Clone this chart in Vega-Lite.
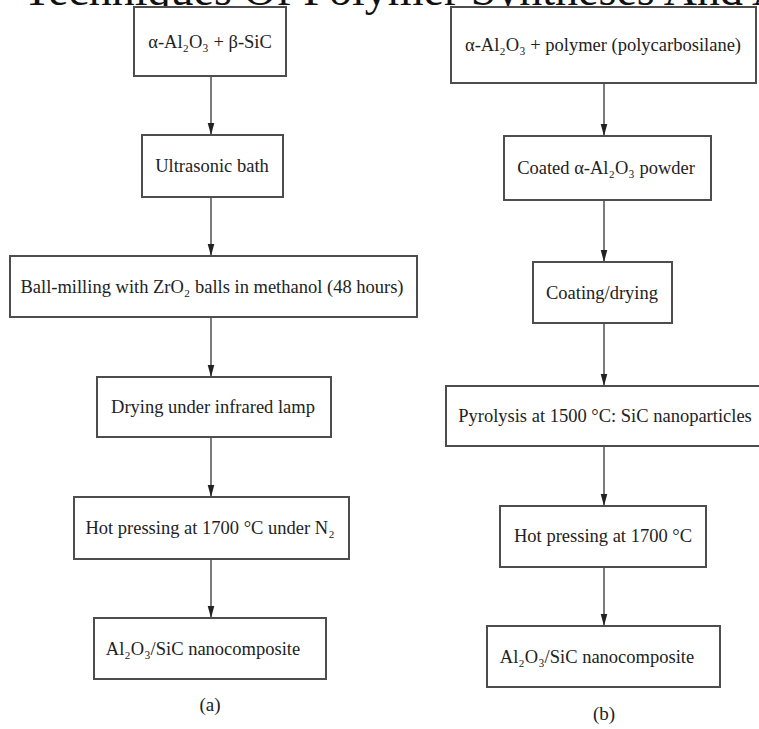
{
  "$schema": "https://vega.github.io/schema/vega-lite/v6.json",
  "width": 759,
  "height": 729,
  "autosize": "none",
  "padding": 0,
  "background": "white",
  "config": {"view": {"stroke": null}},
  "datasets": {
    "title": [{"label": "Techniques Of Polymer Syntheses And Applications", "x": 23, "y": 5}],
    "boxes": [
      {"id": "a1", "x1": 134, "x2": 286, "y1": 7, "y2": 76, "tx": 210, "ty": 42, "label": "α-Al₂O₃ + β-SiC"},
      {"id": "a2", "x1": 142, "x2": 283, "y1": 135, "y2": 197, "tx": 212, "ty": 166, "label": "Ultrasonic bath"},
      {"id": "a3", "x1": 10, "x2": 417, "y1": 256, "y2": 317, "tx": 212, "ty": 287, "label": "Ball-milling with ZrO₂ balls in methanol (48 hours)"},
      {"id": "a4", "x1": 97, "x2": 331, "y1": 377, "y2": 437, "tx": 213, "ty": 407, "label": "Drying under infrared lamp"},
      {"id": "a5", "x1": 74, "x2": 349, "y1": 497, "y2": 559, "tx": 210, "ty": 528, "label": "Hot pressing at 1700 °C under N₂"},
      {"id": "a6", "x1": 94, "x2": 326, "y1": 618, "y2": 679, "tx": 203, "ty": 649, "label": "Al₂O₃/SiC nanocomposite"},
      {"id": "b1", "x1": 451, "x2": 756, "y1": 7, "y2": 83, "tx": 603, "ty": 45, "label": "α-Al₂O₃ + polymer (polycarbosilane)"},
      {"id": "b2", "x1": 504, "x2": 711, "y1": 136, "y2": 200, "tx": 606, "ty": 168, "label": "Coated α-Al₂O₃ powder"},
      {"id": "b3", "x1": 533, "x2": 672, "y1": 262, "y2": 323, "tx": 602, "ty": 293, "label": "Coating/drying"},
      {"id": "b4", "x1": 446, "x2": 768, "y1": 386, "y2": 446, "tx": 605, "ty": 416, "label": "Pyrolysis at 1500 °C: SiC nanoparticles"},
      {"id": "b5", "x1": 500, "x2": 706, "y1": 506, "y2": 567, "tx": 603, "ty": 536, "label": "Hot pressing at 1700 °C"},
      {"id": "b6", "x1": 487, "x2": 720, "y1": 626, "y2": 687, "tx": 597, "ty": 657, "label": "Al₂O₃/SiC nanocomposite"}
    ],
    "arrows": [
      {"x": 211, "from": 76, "to": 135},
      {"x": 211, "from": 197, "to": 256},
      {"x": 211, "from": 317, "to": 377},
      {"x": 211, "from": 437, "to": 497},
      {"x": 211, "from": 559, "to": 618},
      {"x": 604, "from": 83, "to": 136},
      {"x": 604, "from": 200, "to": 262},
      {"x": 604, "from": 323, "to": 386},
      {"x": 604, "from": 446, "to": 506},
      {"x": 604, "from": 567, "to": 626}
    ],
    "panels": [
      {"label": "(a)", "x": 210, "y": 705},
      {"label": "(b)", "x": 604, "y": 714}
    ]
  },
  "resolve": {"scale": {"x": "shared", "y": "shared"}},
  "layer": [
    {
      "data": {"name": "title"},
      "mark": {"type": "text", "align": "left", "baseline": "alphabetic", "font": "Liberation Serif", "fontSize": 46, "color": "#111"},
      "encoding": {
        "x": {"field": "x", "type": "quantitative", "scale": {"domain": [0, 759], "zero": false, "nice": false}, "axis": null},
        "y": {"field": "y", "type": "quantitative", "scale": {"domain": [0, 729], "range": [0, 729], "zero": false, "nice": false}, "axis": null},
        "text": {"field": "label"}
      }
    },
    {
      "data": {"name": "arrows"},
      "mark": {"type": "rule", "color": "#333", "strokeWidth": 1.3},
      "encoding": {
        "x": {"field": "x", "type": "quantitative"},
        "y": {"field": "from", "type": "quantitative"},
        "y2": {"field": "to"}
      }
    },
    {
      "data": {"name": "arrows"},
      "mark": {"type": "point", "shape": "M-0.55,-2L0.55,-2L0,0Z", "filled": true, "color": "#222", "opacity": 1, "size": 144},
      "encoding": {
        "x": {"field": "x", "type": "quantitative"},
        "y": {"field": "to", "type": "quantitative"}
      }
    },
    {
      "data": {"name": "boxes"},
      "mark": {"type": "rect", "fill": "white", "stroke": "#4d4d4d", "strokeWidth": 2},
      "encoding": {
        "x": {"field": "x1", "type": "quantitative"},
        "x2": {"field": "x2"},
        "y": {"field": "y1", "type": "quantitative"},
        "y2": {"field": "y2"}
      }
    },
    {
      "data": {"name": "boxes"},
      "mark": {"type": "text", "align": "center", "baseline": "middle", "font": "Liberation Serif", "fontSize": 18.5, "color": "#222"},
      "encoding": {
        "x": {"field": "tx", "type": "quantitative"},
        "y": {"field": "ty", "type": "quantitative"},
        "text": {"field": "label"}
      }
    },
    {
      "data": {"name": "panels"},
      "mark": {"type": "text", "align": "center", "baseline": "middle", "font": "Liberation Serif", "fontSize": 19, "color": "#222"},
      "encoding": {
        "x": {"field": "x", "type": "quantitative"},
        "y": {"field": "y", "type": "quantitative"},
        "text": {"field": "label"}
      }
    }
  ]
}
